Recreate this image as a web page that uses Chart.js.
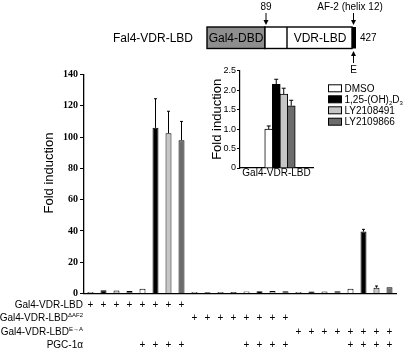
<!DOCTYPE html>
<html>
<head>
<meta charset="utf-8">
<script src="https://cdn.jsdelivr.net/npm/chart.js@4.4.1/dist/chart.umd.min.js"></script>
<style>
  html, body { margin: 0; padding: 0; background: #fff; }
  #wrap { position: relative; width: 405px; height: 352px; }
  #main { position: absolute; left: 0; top: 0; width: 405px; height: 352px; }
  #inset { position: absolute; left: 200px; top: 55px; width: 205px; height: 130px; }
</style>
</head>
<body>
<div id="wrap">
  <canvas id="main" width="405" height="352"></canvas>
  <canvas id="inset" width="205" height="130"></canvas>
</div>
<script>
(function () {
  "use strict";

  // treatments, in bar order inside each block of four
  var treatments = ["DMSO", "1,25-(OH)_{2}D_{3}", "LY2108491", "LY2109866"];
  var fills = ["#ffffff", "#000000", "#c6c6c6", "#6c6c6c"];

  var constructs = ["Gal4-VDR-LBD", "Gal4-VDR-LBD^{\u0394AF2}", "Gal4-VDR-LBD^{E\u2192A}"];

  // fold induction: 4 bars without PGC-1a, then 4 bars with PGC-1a
  var foldLbd = [1.0, 2.1, 1.9, 1.6, 3.0, 105.9, 102.4, 97.9];
  var errLbd = [0.1, 0.2, 0.2, 0.2, 0.3, 18.6, 14.1, 12.1];
  var foldAf2 = [0.9, 0.8, 0.9, 1.0, 1.2, 1.5, 1.6, 1.5];
  var errAf2 = [0.1, 0.1, 0.1, 0.1, 0.1, 0.2, 0.2, 0.2];
  var foldEa = [1.0, 1.2, 1.3, 1.5, 3.0, 39.6, 3.7, 4.0];
  var errEa = [0.1, 0.1, 0.1, 0.1, 0.3, 1.4, 1.1, 0.8];

  // "+" table under the main chart, one flag per bar
  var rowLbd = [1,1,1,1,1,1,1,1, 0,0,0,0,0,0,0,0, 0,0,0,0,0,0,0,0];
  var rowAf2 = [0,0,0,0,0,0,0,0, 1,1,1,1,1,1,1,1, 0,0,0,0,0,0,0,0];
  var rowEa  = [0,0,0,0,0,0,0,0, 0,0,0,0,0,0,0,0, 1,1,1,1,1,1,1,1];
  var rowPgc = [0,0,0,0,1,1,1,1, 0,0,0,0,1,1,1,1, 0,0,0,0,1,1,1,1];
  var rowNames = ["Gal4-VDR-LBD", "Gal4-VDR-LBD^{\u0394AF2}", "Gal4-VDR-LBD^{E\u2192A}", "PGC-1\u03b1"];

  var mainTicks = [0, 20, 40, 60, 80, 100, 120, 140];

  // inset: Gal4-VDR-LBD alone
  var insetCategory = "Gal4-VDR-LBD";
  var insetFold = [1.0, 2.15, 1.9, 1.6];
  var insetErr = [0.08, 0.13, 0.15, 0.14];
  var insetTicks = [0, 0.5, 1.0, 1.5, 2.0, 2.5];

  var SANS = "'Liberation Sans', Arial, sans-serif";
  var NARROW = "'Liberation Sans Narrow', 'Arial Narrow', 'Liberation Sans', sans-serif";

  function drawRich(ctx, text, x, y, size, align, family) {
    family = family || SANS;
    var parts = [];
    var re = /([_^])\{([^}]*)\}/g, last = 0, m;
    while ((m = re.exec(text))) {
      if (m.index > last) parts.push({ t: text.slice(last, m.index), k: "" });
      parts.push({ t: m[2], k: m[1] });
      last = re.lastIndex;
    }
    if (last < text.length) parts.push({ t: text.slice(last), k: "" });
    var small = size * 0.6;
    var total = 0;
    parts.forEach(function (p) {
      ctx.font = (p.k ? small : size) + "px " + family;
      p.w = ctx.measureText(p.t).width;
      total += p.w;
    });
    var cx = align === "right" ? x - total : align === "center" ? x - total / 2 : x;
    ctx.textAlign = "left";
    ctx.textBaseline = "middle";
    parts.forEach(function (p) {
      ctx.font = (p.k ? small : size) + "px " + family;
      var dy = p.k === "_" ? size * 0.32 : p.k === "^" ? -size * 0.3 : 0;
      ctx.fillText(p.t, cx, y + dy);
      cx += p.w;
    });
  }

  function arrow(ctx, x, y1, y2) {
    // line from y1 to y2, head at y2
    var dir = y2 > y1 ? 1 : -1;
    ctx.beginPath();
    ctx.moveTo(x, y1);
    ctx.lineTo(x, y2 - dir * 4);
    ctx.stroke();
    ctx.beginPath();
    ctx.moveTo(x - 2.5, y2 - dir * 5);
    ctx.lineTo(x + 2.5, y2 - dir * 5);
    ctx.lineTo(x, y2);
    ctx.closePath();
    ctx.fill();
  }

  function drawErrors(ctx, chart, xs, tops, errs, cap) {
    var y = chart.scales.y;
    ctx.save();
    ctx.strokeStyle = "#000";
    ctx.lineWidth = 1;
    for (var i = 0; i < xs.length; i++) {
      var y0 = y.getPixelForValue(tops[i]);
      var y1 = y.getPixelForValue(tops[i] + errs[i]);
      if (y0 - y1 < 1.5) continue;
      ctx.beginPath();
      ctx.moveTo(xs[i], y0);
      ctx.lineTo(xs[i], y1);
      ctx.moveTo(xs[i] - cap, y1);
      ctx.lineTo(xs[i] + cap, y1);
      ctx.stroke();
    }
    ctx.restore();
  }

  var mainValues = foldLbd.concat(foldAf2, foldEa);
  var mainErrors = errLbd.concat(errAf2, errEa);
  var barLabels = mainValues.map(function (v, i) {
    var c = constructs[Math.floor(i / 8)].replace(/\^\{|\}/g, "");
    return c + " / " + treatments[i % 4].replace(/_\{|\}/g, "") + (i % 8 >= 4 ? " + PGC-1\u03b1" : "");
  });

  var mainExtras = {
    id: "mainExtras",
    afterDatasetsDraw: function (chart) {
      var ctx = chart.ctx;
      var meta = chart.getDatasetMeta(0);
      var xs = meta.data.map(function (b) { return b.x; });
      drawErrors(ctx, chart, xs, mainValues, mainErrors, 1.5);
    },
    afterDraw: function (chart) {
      var ctx = chart.ctx;
      var x = chart.scales.x;
      ctx.save();
      ctx.fillStyle = "#000";
      ctx.strokeStyle = "#000";

      // y title
      ctx.save();
      ctx.translate(49, 173);
      ctx.rotate(-Math.PI / 2);
      ctx.font = "13px " + SANS;
      ctx.textAlign = "center";
      ctx.textBaseline = "middle";
      ctx.fillText("Fold induction", 0, 0);
      ctx.restore();

      // "+" table
      var rows = [rowLbd, rowAf2, rowEa, rowPgc];
      var rowY = [305, 318.5, 332, 345.5];
      rows.forEach(function (row, r) {
        drawRich(ctx, rowNames[r], 83, rowY[r], 10, "right");
        ctx.font = "10px " + SANS;
        ctx.textAlign = "center";
        ctx.textBaseline = "middle";
        row.forEach(function (on, i) {
          if (on) ctx.fillText("+", x.getPixelForValue(i), rowY[r]);
        });
      });

      // construct schematic
      ctx.lineWidth = 1.4;
      ctx.font = "12px " + SANS;
      ctx.textAlign = "left";
      ctx.textBaseline = "middle";
      ctx.fillText("Fal4-VDR-LBD", 113, 38.5);
      ctx.fillStyle = "#8e8e8e";
      ctx.fillRect(207, 27, 58, 21.5);
      ctx.strokeRect(207, 27, 58, 21.5);
      ctx.fillStyle = "#fff";
      ctx.fillRect(265, 27, 87, 21.5);
      ctx.strokeRect(265, 27, 87, 21.5);
      ctx.beginPath();
      ctx.moveTo(287, 27);
      ctx.lineTo(287, 48.5);
      ctx.stroke();
      ctx.fillStyle = "#000";
      ctx.fillRect(352, 27, 4, 21.5);
      ctx.textAlign = "center";
      ctx.fillText("Gal4-DBD", 236, 38.5);
      ctx.fillText("VDR-LBD", 320, 38.5);
      ctx.font = "10px " + SANS;
      ctx.textAlign = "left";
      ctx.fillText("427", 360, 38.5);
      ctx.textAlign = "center";
      ctx.fillText("89", 266, 7);
      ctx.fillText("AF-2 (helix 12)", 350, 7);
      ctx.fillText("E", 353.5, 70);
      ctx.lineWidth = 1;
      arrow(ctx, 266, 13, 25);
      arrow(ctx, 353.5, 13, 25);
      arrow(ctx, 353.5, 63, 51);
      ctx.restore();
    }
  };

  new Chart(document.getElementById("main"), {
    type: "bar",
    data: {
      labels: barLabels,
      datasets: [{
        label: "Fold induction",
        data: mainValues,
        backgroundColor: mainValues.map(function (v, i) { return fills[i % 4]; }),
        borderColor: "#000",
        borderWidth: 1,
        categoryPercentage: 1,
        barPercentage: 0.46
      }]
    },
    options: {
      responsive: false,
      animation: false,
      layout: { padding: { top: 74.5, right: 9, bottom: 0, left: 0 } },
      plugins: { legend: { display: false }, tooltip: { enabled: false } },
      scales: {
        x: {
          offset: true,
          ticks: { display: false },
          grid: { display: false },
          border: { display: true, color: "#000", width: 1.3 },
          afterFit: function (s) { s.height = 58.5; }
        },
        y: {
          min: 0,
          max: 140,
          afterBuildTicks: function (s) {
            s.ticks = mainTicks.map(function (v) { return { value: v }; });
          },
          ticks: {
            color: "#000",
            padding: 2,
            font: { family: "'Liberation Serif', 'Times New Roman', serif", weight: "bold", size: 10 }
          },
          grid: { drawOnChartArea: false, color: "#000", tickLength: 4 },
          border: { display: true, color: "#000", width: 1.3 },
          afterFit: function (s) { s.width = 84; }
        }
      }
    },
    plugins: [mainExtras]
  });

  var insetExtras = {
    id: "insetExtras",
    afterDatasetsDraw: function (chart) {
      var xs = chart.data.datasets.map(function (d, i) {
        return chart.getDatasetMeta(i).data[0].x;
      });
      drawErrors(chart.ctx, chart, xs, insetFold, insetErr, 2);
    },
    afterDraw: function (chart) {
      var ctx = chart.ctx;
      ctx.save();
      ctx.lineWidth = 1;
      ctx.strokeStyle = "#000";
      var rowY = [33.3, 44.3, 55.3, 66.7];
      chart.data.datasets.forEach(function (d, i) {
        ctx.fillStyle = d.backgroundColor;
        ctx.fillRect(128.5, rowY[i] - 3.5, 13, 7);
        ctx.strokeRect(128.5, rowY[i] - 3.5, 13, 7);
        ctx.fillStyle = "#000";
        drawRich(ctx, treatments[i], 144.5, rowY[i] + 0.5, 10, "left", NARROW);
      });
      ctx.restore();
    }
  };

  new Chart(document.getElementById("inset"), {
    type: "bar",
    data: {
      datasets: treatments.map(function (t, i) {
        return {
          label: t.replace(/_\{|\}/g, ""),
          data: [{ x: i, y: insetFold[i] }],
          backgroundColor: fills[i],
          borderColor: "#000",
          borderWidth: 1,
          barThickness: 8,
          grouped: false
        };
      })
    },
    options: {
      responsive: false,
      animation: false,
      layout: { padding: { top: 15.7, right: 92, bottom: 0, left: 0 } },
      plugins: { legend: { display: false }, tooltip: { enabled: false } },
      scales: {
        x: {
          type: "linear",
          min: -1.4,
          max: 3.47,
          ticks: { display: false },
          grid: { display: false },
          border: { display: true, color: "#000", width: 1.2 },
          title: {
            display: true,
            text: insetCategory,
            color: "#000",
            font: { family: SANS, size: 10 },
            padding: { top: 0, bottom: 5.5 }
          },
          afterFit: function (s) { s.height = 17; }
        },
        y: {
          min: 0,
          max: 2.5,
          afterBuildTicks: function (s) {
            s.ticks = insetTicks.map(function (v) { return { value: v }; });
          },
          ticks: {
            color: "#000",
            padding: 1,
            font: { family: NARROW, size: 9 },
            callback: function (v) { return v === 0 ? "0" : v.toFixed(1); }
          },
          grid: { drawOnChartArea: false, color: "#000", tickLength: 3 },
          border: { display: true, color: "#000", width: 1.2 },
          title: {
            display: true,
            text: "Fold induction",
            color: "#000",
            font: { family: SANS, size: 13 },
            padding: { top: 9.2, bottom: 0 }
          },
          afterFit: function (s) { s.width = 40; }
        }
      }
    },
    plugins: [insetExtras]
  });
})();
</script>
</body>
</html>
